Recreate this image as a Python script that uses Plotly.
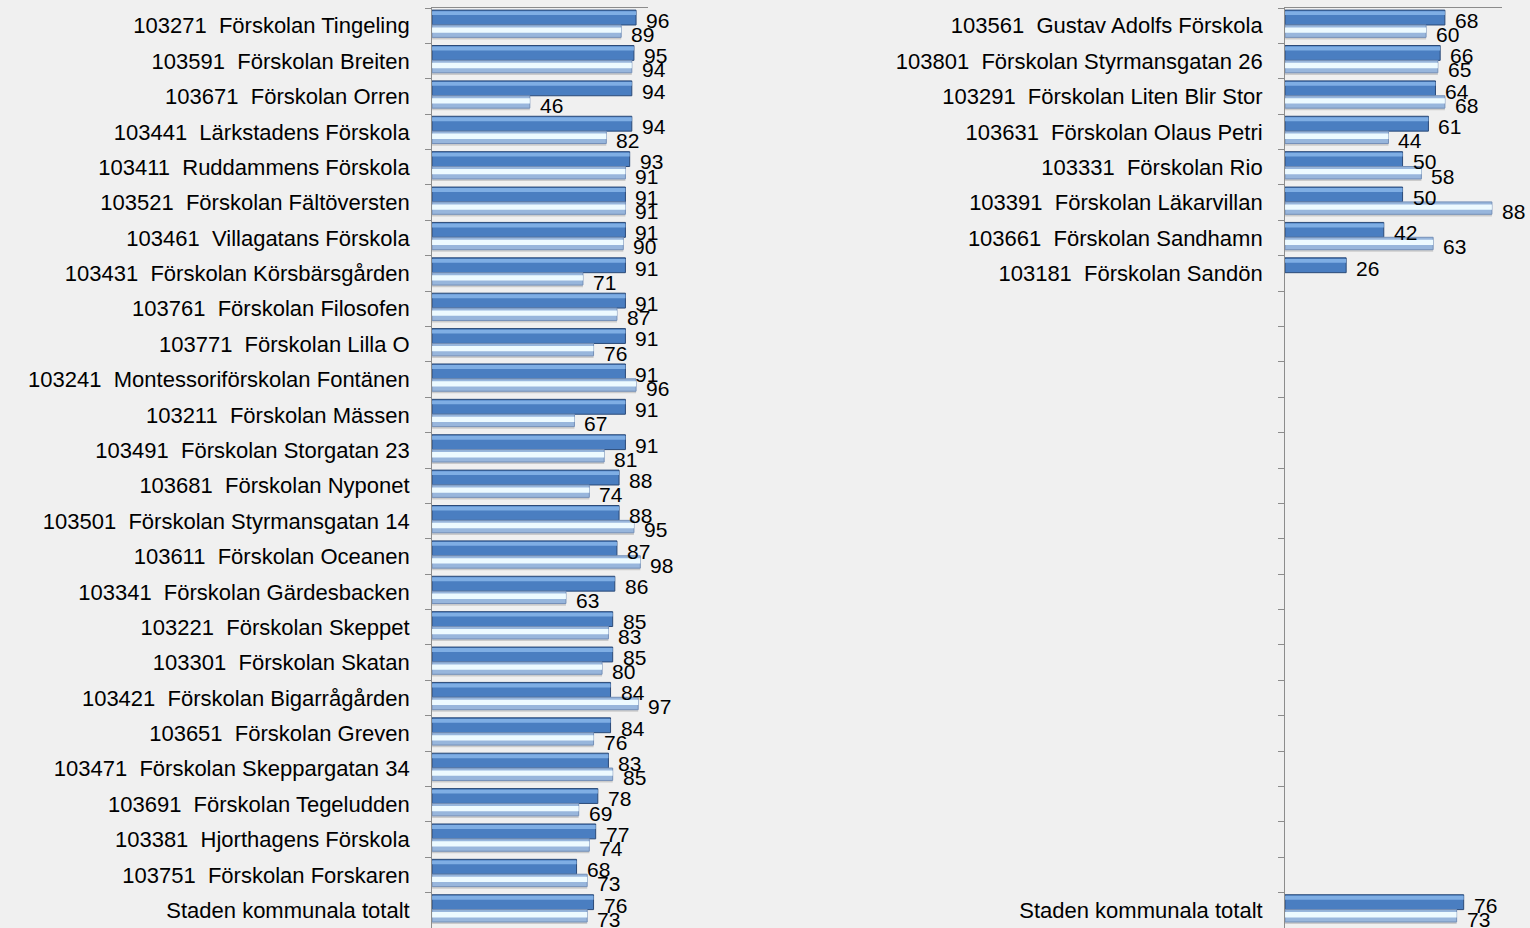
import plotly.graph_objects as go

# left panel
left_names = [
    "103271 Förskolan Tingeling", "103591 Förskolan Breiten", "103671 Förskolan Orren",
    "103441 Lärkstadens Förskola", "103411 Ruddammens Förskola", "103521 Förskolan Fältöversten",
    "103461 Villagatans Förskola", "103431 Förskolan Körsbärsgården", "103761 Förskolan Filosofen",
    "103771 Förskolan Lilla O", "103241 Montessoriförskolan Fontänen", "103211 Förskolan Mässen",
    "103491 Förskolan Storgatan 23", "103681 Förskolan Nyponet", "103501 Förskolan Styrmansgatan 14",
    "103611 Förskolan Oceanen", "103341 Förskolan Gärdesbacken", "103221 Förskolan Skeppet",
    "103301 Förskolan Skatan", "103421 Förskolan Bigarrågården", "103651 Förskolan Greven",
    "103471 Förskolan Skeppargatan 34", "103691 Förskolan Tegeludden", "103381 Hjorthagens Förskola",
    "103751 Förskolan Forskaren", "Staden kommunala totalt",
]
left_dark = [96, 95, 94, 94, 93, 91, 91, 91, 91, 91, 91, 91, 91, 88, 88, 87, 86, 85, 85, 84, 84, 83, 78, 77, 68, 76]
left_light = [89, 94, 46, 82, 91, 91, 90, 71, 87, 76, 96, 67, 81, 74, 95, 98, 63, 83, 80, 97, 76, 85, 69, 74, 73, 73]

# right panel (row slots 8..24 are empty)
right_pos = [0, 1, 2, 3, 4, 5, 6, 7, 25]
right_names = [
    "103561 Gustav Adolfs Förskola", "103801 Förskolan Styrmansgatan 26", "103291 Förskolan Liten Blir Stor",
    "103631 Förskolan Olaus Petri", "103331 Förskolan Rio", "103391 Förskolan Läkarvillan",
    "103661 Förskolan Sandhamn", "103181 Förskolan Sandön", "Staden kommunala totalt",
]
right_dark = [68, 66, 64, 61, 50, 50, 42, 26, 76]
right_light = [60, 65, 68, 44, 58, 88, 63, None, 73]

FONT = "Liberation Sans, Arial, sans-serif"
left_pos = list(range(len(left_names)))


def wide(name):
    # the source puts a wider gap after the unit code
    code, _, rest = name.partition(" ")
    if code.isdigit():
        return code + "\u00a0\u00a0" + rest
    return name


fig = go.Figure()


def add_panel(pos, dark, light, xa, ya):
    # shadow under the light bar
    fig.add_trace(go.Bar(y=pos, x=light, orientation="h", offset=0.32, width=0.07,
                         marker=dict(color="rgba(120,120,120,0.3)", line=dict(width=0)),
                         xaxis=xa, yaxis=ya, hoverinfo="skip", showlegend=False))
    fig.add_trace(go.Bar(y=pos, x=dark, orientation="h", offset=-0.44, width=0.42,
                         marker=dict(color="#4A7EC1", line=dict(color="#2B4A78", width=1)),
                         xaxis=xa, yaxis=ya, showlegend=False))
    fig.add_trace(go.Bar(y=pos, x=dark, orientation="h", offset=-0.41, width=0.11,
                         marker=dict(color="#7FAEE4", line=dict(width=0)),
                         xaxis=xa, yaxis=ya, hoverinfo="skip", showlegend=False))
    fig.add_trace(go.Bar(y=pos, x=light, orientation="h", offset=-0.02, width=0.35,
                         marker=dict(color="#98B6DC", line=dict(color="#7590B8", width=1)),
                         xaxis=xa, yaxis=ya, showlegend=False))
    fig.add_trace(go.Bar(y=pos, x=light, orientation="h", offset=0.05, width=0.15,
                         marker=dict(color="#EDFAFF", line=dict(width=0)),
                         xaxis=xa, yaxis=ya, hoverinfo="skip", showlegend=False))
    for p, d, l in zip(pos, dark, light):
        if d is not None:
            fig.add_annotation(x=d, y=p - 0.15, xref=xa, yref=ya, text=str(d), showarrow=False,
                               xanchor="left", xshift=8, font=dict(family=FONT, size=21, color="black"))
        if l is not None:
            fig.add_annotation(x=l, y=p + 0.25, xref=xa, yref=ya, text=str(l), showarrow=False,
                               xanchor="left", xshift=8, font=dict(family=FONT, size=21, color="black"))


add_panel(left_pos, left_dark, left_light, "x", "y")
add_panel(right_pos, right_dark, right_light, "x2", "y2")

yax = dict(range=[25.5, -0.5], showline=True, linecolor="#8C8C8C", linewidth=1,
           ticks="", showgrid=False, zeroline=False, tickmode="array",
           ticklabelstandoff=17, tickfont=dict(family=FONT, size=22, color="black"),
           minor=dict(tick0=0.5, dtick=1, ticks="outside", ticklen=6, tickcolor="#8C8C8C", showgrid=False))
xax = dict(side="top", showline=True, linecolor="#8C8C8C", linewidth=1, showticklabels=False,
           ticks="", showgrid=False, zeroline=False)

fig.update_layout(
    width=1530, height=928,
    margin=dict(l=0, r=0, t=8, b=0),
    paper_bgcolor="#F0F0F0", plot_bgcolor="rgba(0,0,0,0)",
    barmode="overlay", showlegend=False,
    xaxis=dict(xax, domain=[0.2824, 0.4235], range=[0, 101.6], anchor="y"),
    yaxis=dict(yax, domain=[0, 1], anchor="x", tickvals=left_pos, ticktext=[wide(n) for n in left_names]),
    xaxis2=dict(xax, domain=[0.8399, 0.9817], range=[0, 92.3], anchor="y2"),
    yaxis2=dict(yax, domain=[0, 1], anchor="x2", tickvals=right_pos, ticktext=[wide(n) for n in right_names]),
)

fig.write_html("out.html", config={"displayModeBar": False},
               post_script="document.body.style.margin='0';document.body.style.background='#F0F0F0';")
